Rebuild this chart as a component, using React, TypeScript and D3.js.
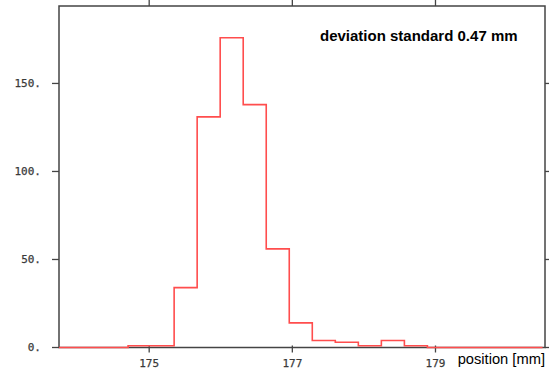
import React from "react";
import * as d3 from "d3";

const counts = [0, 0, 0, 1, 1, 34, 131, 176, 138, 56, 14, 4, 3, 1, 4, 1, 0, 0, 0, 0, 0];
const binStart = 173.74;
const binWidth = 0.3217;
const xTicks = [175, 177, 179];
const yTicks = [0, 50, 100, 150];
const xDomain: [number, number] = [173.74, 180.53];
const yDomain: [number, number] = [0, 194];
const annotation = "deviation standard 0.47 mm";
const xLabel = "position [mm]";

export default function App() {
  const W = 553, H = 378;
  const left = 59, right = 545, top = 6, bottom = 347.5;
  const x = d3.scaleLinear().domain(xDomain).range([left, right]);
  const y = d3.scaleLinear().domain(yDomain).range([bottom, top]);

  const pts: [number, number][] = counts.map((c, i) => [binStart + i * binWidth, c]);
  const lastEnd = Math.min(binStart + counts.length * binWidth, xDomain[1]);
  pts.push([lastEnd, counts[counts.length - 1]]);
  const line = d3
    .line<[number, number]>()
    .x((d) => x(Math.min(d[0], xDomain[1])))
    .y((d) => y(d[1]))
    .curve(d3.curveStepAfter);

  const axisColor = "#444";
  const tickFont = "'DejaVu Sans Mono', monospace";

  return (
    <svg
      width={W}
      height={H}
      style={{ position: "absolute", left: 0, top: 0, background: "#fff" }}
    >
      <rect x={0} y={0} width={W} height={H} fill="#fff" />
      <rect x={left} y={top} width={right - left} height={bottom - top} fill="none" stroke={axisColor} strokeWidth={1.5} />
      {xTicks.map((t) => (
        <g key={"xt" + t}>
          <line x1={x(t)} x2={x(t)} y1={bottom - 2} y2={bottom + 5} stroke={axisColor} strokeWidth={1.3} />
          <line x1={x(t)} x2={x(t)} y1={0} y2={top} stroke={axisColor} strokeWidth={1.3} />
          <text x={x(t)} y={366.5} textAnchor="middle" fontFamily={tickFont} fontSize={11} fill="#3a3a3a" stroke="#3a3a3a" strokeWidth={0.25}>
            {t}
          </text>
        </g>
      ))}
      {yTicks.map((t) => (
        <g key={"yt" + t}>
          <line x1={left - 7} x2={left} y1={y(t)} y2={y(t)} stroke={axisColor} strokeWidth={1.3} />
          <line x1={right} x2={right + 4} y1={y(t)} y2={y(t)} stroke={axisColor} strokeWidth={1.3} />
          <text x={41} y={y(t)} dy="0.35em" textAnchor="end" fontFamily={tickFont} fontSize={11} fill="#3a3a3a" stroke="#3a3a3a" strokeWidth={0.25}>
            {t + "."}
          </text>
        </g>
      ))}
      <path d={line(pts) || ""} fill="none" stroke="#ff4d4d" strokeWidth={1.6} />
      <text x={320} y={41} fontFamily="'Liberation Sans', Arial, sans-serif" fontWeight="bold" fontSize={15} fill="#000">
        {annotation}
      </text>
      <text x={right} y={364} textAnchor="end" fontFamily="'Liberation Sans', Arial, sans-serif" fontSize={14.7} fill="#000">
        {xLabel}
      </text>
    </svg>
  );
}
